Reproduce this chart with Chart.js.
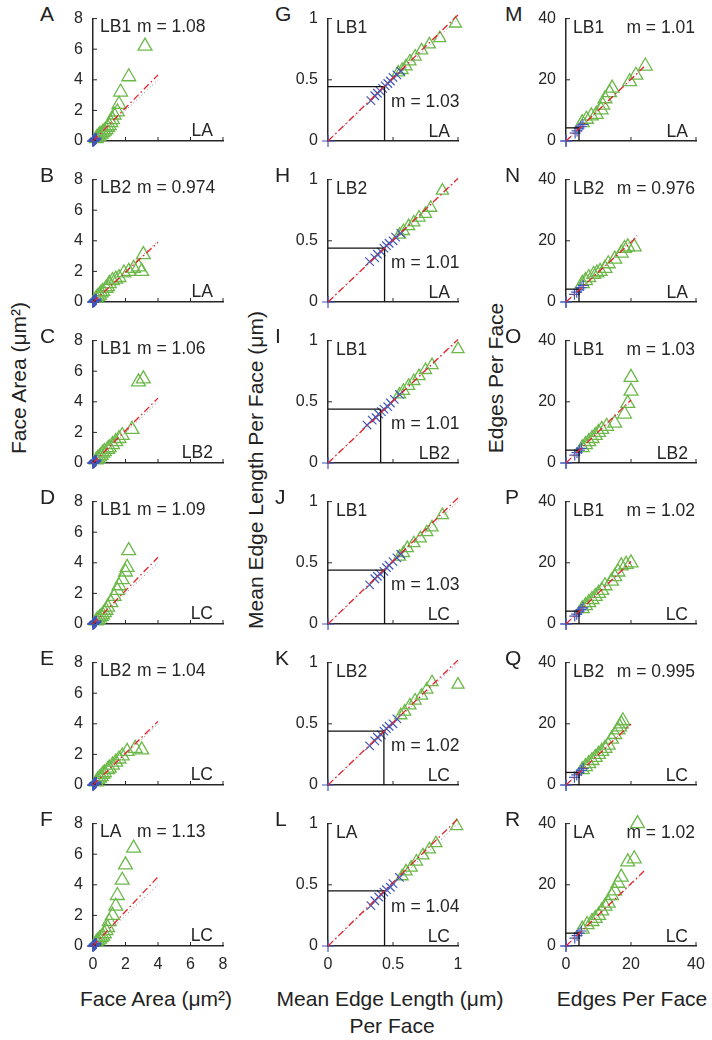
<!DOCTYPE html>
<html>
<head>
<meta charset="utf-8">
<script src="https://cdn.jsdelivr.net/npm/chart.js@4.4.1/dist/chart.umd.min.js"></script>
<style>
body{margin:0;background:#fff;width:712px;height:1040px;position:relative;overflow:hidden;font-family:"Liberation Sans",Arial,sans-serif;color:#222}
canvas{position:absolute}
.t{position:absolute;font-size:21px;line-height:1;white-space:nowrap}
.c{transform:translate(-50%,-50%)}
.r{transform:translate(-50%,-50%) rotate(-90deg)}
.let{position:absolute;font-size:21px;line-height:1}
</style>
</head>
<body>
<div class="t r" style="left:18px;top:378px">Face Area (μm²)</div>
<div class="t r" style="left:255px;top:470px">Mean Edge Length Per Face (μm)</div>
<div class="t r" style="left:495px;top:378px">Edges Per Face</div>
<div class="t c" style="left:156px;top:998px">Face Area (μm²)</div>
<div class="t c" style="left:390px;top:998px">Mean Edge Length (μm)</div>
<div class="t c" style="left:392px;top:1025px">Per Face</div>
<div class="t c" style="left:632px;top:998px">Edges Per Face</div>
<script>
// panel labels, column by column (A-F, G-L, M-R)
const letters = ['A','B','C','D','E','F','G','H','I','J','K','L','M','N','O','P','Q','R'];
const refNames = ['LB1','LB2','LB1','LB1','LB2','LA','LB1','LB2','LB1','LB1','LB2','LA','LB1','LB2','LB1','LB1','LB2','LA'];
const cmpNames = ['LA','LA','LB2','LC','LC','LC','LA','LA','LB2','LC','LC','LC','LA','LA','LB2','LC','LC','LC'];
const slopes = [1.08,0.974,1.06,1.09,1.04,1.13, 1.03,1.01,1.01,1.03,1.02,1.04, 1.01,0.976,1.03,1.02,0.995,1.02];
const fitEnds = [4,4,4,4,4,4, 1,1,1,1,1,1, 24,22,20,20,20,24];

// axes per column
const axisMax = [8, 1, 40];
const tickValues = [[0,2,4,6,8],[0,0.5,1],[0,20,40]];
const tickLabels = [['0','2','4','6','8'],['0','0.5','1'],['0','20','40']];

// mean point (black guide lines)
const means = [[0.12,0.11],[0.12,0.11],[0.12,0.11],[0.12,0.11],[0.12,0.11],[0.12,0.11],
  [0.435,0.445],[0.435,0.44],[0.405,0.44],[0.435,0.44],[0.43,0.44],[0.435,0.45],
  [4,4.3],[4,4.2],[4,4.2],[4,4.2],[4,4.1],[4,4.2]];

// green triangles
const triangles = [
  [[3.2,6.2],[2.2,4.2],[1.7,3.2],[1.6,2.4],[1.5,1.9],[1.3,1.7],[1.2,1.4],[1.1,1.2],[1.0,1.0],[0.9,0.9],[0.8,0.75],[0.7,0.65],[0.6,0.55],[0.5,0.45],[0.4,0.4],[0.35,0.3],[0.25,0.25],[0.2,0.15]],
  [[3.1,3.1],[2.8,2.3],[3.0,2.0],[2.5,2.2],[2.2,2.0],[1.9,1.9],[1.6,1.6],[1.4,1.5],[1.2,1.4],[1.0,1.2],[0.9,1.0],[0.8,0.9],[0.6,0.7],[0.5,0.6],[0.4,0.45],[0.3,0.35],[0.2,0.25]],
  [[2.8,5.3],[3.1,5.5],[2.4,2.2],[1.8,1.8],[1.6,1.6],[1.4,1.4],[1.2,1.2],[1.0,1.0],[0.9,0.9],[0.7,0.75],[0.6,0.65],[0.5,0.5],[0.4,0.4],[0.3,0.3],[0.2,0.2]],
  [[2.2,4.8],[2.1,3.7],[2.0,3.4],[1.8,2.9],[1.6,2.5],[1.5,2.2],[1.3,1.8],[1.1,1.4],[0.9,1.1],[0.8,0.9],[0.7,0.75],[0.6,0.6],[0.5,0.5],[0.4,0.4],[0.3,0.3],[0.2,0.2]],
  [[3.0,2.3],[2.6,2.4],[2.1,2.2],[1.8,1.9],[1.6,1.7],[1.4,1.5],[1.2,1.3],[1.0,1.1],[0.9,1.0],[0.7,0.8],[0.6,0.7],[0.5,0.55],[0.4,0.45],[0.3,0.35],[0.2,0.2]],
  [[2.5,6.4],[2.0,5.3],[1.8,4.3],[1.5,3.3],[1.4,2.6],[1.2,2.0],[1.0,1.6],[0.9,1.2],[0.8,1.0],[0.7,0.8],[0.6,0.65],[0.5,0.55],[0.4,0.45],[0.3,0.35],[0.2,0.25]],
  [[0.98,0.96],[0.86,0.84],[0.78,0.79],[0.72,0.74],[0.67,0.69],[0.63,0.65],[0.6,0.61],[0.57,0.58],[0.54,0.56]],
  [[0.88,0.91],[0.79,0.77],[0.75,0.72],[0.7,0.69],[0.66,0.65],[0.62,0.62],[0.58,0.58],[0.55,0.55]],
  [[1.0,0.93],[0.8,0.8],[0.75,0.76],[0.7,0.71],[0.66,0.67],[0.62,0.63],[0.58,0.59],[0.55,0.56]],
  [[0.88,0.89],[0.8,0.79],[0.76,0.75],[0.71,0.7],[0.66,0.66],[0.61,0.62],[0.58,0.58],[0.55,0.55]],
  [[1.0,0.82],[0.8,0.84],[0.76,0.78],[0.72,0.73],[0.67,0.69],[0.63,0.65],[0.59,0.6],[0.56,0.57]],
  [[0.99,0.98],[0.83,0.84],[0.78,0.79],[0.73,0.74],[0.68,0.69],[0.64,0.64],[0.6,0.61],[0.57,0.57]],
  [[24.4,24.5],[21.5,21.5],[19.6,19.4],[14.2,17.3],[13.4,15.8],[12,13.8],[11.3,11.7],[10.8,10.2],[9.3,8.7],[7.8,8.2],[6.3,7.1],[5,6]],
  [[21,18],[19,18],[18,17.5],[17,16],[15,14],[13,12.5],[12,11],[10.5,10],[9.5,9.5],[8.5,9],[7,8],[6,7],[5,6]],
  [[20,28],[20,23.5],[19,19.5],[18,16],[15,13],[12.5,12],[11,11],[10,10],[9,9],[8,8],[7,7],[6,6],[5,5]],
  [[20,20],[18.5,19.5],[17,19],[16,17],[15,15.5],[14,14],[12,12.5],[11,11],[10,10],[9,9],[8,8],[7,7],[6,6],[5,5]],
  [[17.5,21],[17,20],[16.5,19],[16,18],[15,16.5],[14,15],[13,13],[12,12],[11,11],[10,10],[9,9],[8,8],[7,7],[6,6],[5,5]],
  [[22,40],[21,28.5],[19,27.5],[17,22.5],[16,20.5],[15,18],[14,16.5],[13,14],[12,13],[11,11.5],[10,10],[9,9],[8,8],[6.5,7],[5,5.5]]
];

// blue crosses
const crossesC1 = [[0,0],[0.05,0.04],[0.08,0.07],[0.1,0.1],[0.12,0.11],[0.15,0.14],[0.18,0.16]];
const crosses = [
  crossesC1, crossesC1, crossesC1, crossesC1, crossesC1, crossesC1,
  [[0.33,0.33],[0.36,0.37],[0.38,0.39],[0.4,0.41],[0.42,0.43],[0.44,0.45],[0.46,0.47],[0.48,0.49],[0.5,0.52],[0.53,0.54],[0.56,0.57]],
  [[0.32,0.33],[0.36,0.36],[0.38,0.39],[0.41,0.41],[0.43,0.44],[0.45,0.46],[0.47,0.48],[0.5,0.5],[0.52,0.53],[0.56,0.56]],
  [[0.3,0.31],[0.34,0.35],[0.37,0.37],[0.39,0.4],[0.41,0.42],[0.43,0.44],[0.46,0.46],[0.48,0.49],[0.51,0.52],[0.55,0.56]],
  [[0.32,0.32],[0.36,0.37],[0.38,0.39],[0.4,0.41],[0.43,0.43],[0.45,0.46],[0.47,0.48],[0.5,0.51],[0.53,0.54],[0.56,0.57]],
  [[0.32,0.32],[0.36,0.36],[0.38,0.39],[0.41,0.41],[0.43,0.44],[0.45,0.46],[0.47,0.48],[0.5,0.5],[0.53,0.54]],
  [[0.33,0.33],[0.36,0.37],[0.39,0.4],[0.41,0.42],[0.43,0.44],[0.45,0.46],[0.48,0.48],[0.5,0.51],[0.55,0.56]],
  [[0,0],[2.8,2.6],[3.4,3.3],[4.0,4.2],[4.6,4.8],[5.2,5.4]],
  [[0,0],[2.6,2.5],[3.3,3.2],[4.0,4.0],[4.6,4.7],[5.3,5.4]],
  [[0,0],[2.7,2.6],[3.4,3.4],[4.1,4.2],[4.7,4.8]],
  [[0,0],[2.7,2.6],[3.3,3.2],[4.0,4.2],[4.6,4.7],[5.2,5.3]],
  [[0,0],[2.6,2.5],[3.3,3.3],[4.0,4.1],[4.7,4.8],[5.3,5.4]],
  [[0,0],[2.7,2.6],[3.4,3.4],[4.0,4.2],[4.7,4.9]]
];

const colLeft = [93, 328, 566];
const FONT = '"Liberation Sans", Arial, sans-serif';
const GREEN = '#6cb94a', BLUE = '#4157b8', RED = '#e3242b', INK = '#262626';

const xy = a => a.map(p => ({x: p[0], y: p[1]}));

const panelDeco = {
  id: 'panelDeco',
  afterDraw(chart, args, o) {
    const {ctx, chartArea: a, scales} = chart;
    ctx.save();
    // inward tick marks
    ctx.strokeStyle = INK; ctx.lineWidth = 1;
    tickValues[o.col].slice(1).forEach(v => {
      const px = scales.x.getPixelForValue(v), py = scales.y.getPixelForValue(v);
      ctx.beginPath(); ctx.moveTo(px, a.bottom); ctx.lineTo(px, a.bottom - 4); ctx.stroke();
      ctx.beginPath(); ctx.moveTo(a.left, py); ctx.lineTo(a.left + 4, py); ctx.stroke();
    });
    ctx.fillStyle = INK;
    ctx.font = '17.5px ' + FONT;
    ctx.textBaseline = 'middle';
    const m = 'm = ' + o.slope;
    if (o.col === 0) {
      ctx.textAlign = 'left';
      ctx.fillText(o.ref, a.left + 7, a.top + 9);
      ctx.fillText(m, a.left + 44, a.top + 9);
      ctx.textAlign = 'right';
      ctx.fillText(o.cmp, a.left + 120, a.top + 113);
    } else if (o.col === 1) {
      ctx.textAlign = 'left';
      ctx.fillText(o.ref, a.left + 8, a.top + 10);
      ctx.fillText(m, a.left + 63, a.top + 84);
      ctx.textAlign = 'right';
      ctx.fillText(o.cmp, a.left + 122, a.top + 114);
    } else {
      ctx.textAlign = 'left';
      ctx.fillText(o.ref, a.left + 7, a.top + 9.5);
      ctx.textAlign = 'right';
      ctx.fillText(m, a.left + 129, a.top + 9.5);
      ctx.fillText(o.cmp, a.left + 122, a.top + 114);
    }
    ctx.restore();
  }
};

function axis(col, showLabels, isX) {
  return {
    type: 'linear', min: 0, max: axisMax[col],
    afterFit: s => { if (isX) s.height = 30; else s.width = 60; },
    afterBuildTicks: s => { s.ticks = tickValues[col].map(v => ({value: v})); },
    grid: {display: false, drawTicks: false},
    border: {display: true, color: INK, width: 1.5},
    ticks: {
      display: showLabels, padding: isX ? 9 : 10, color: INK, autoSkip: false, maxRotation: 0,
      font: {size: 16, family: FONT},
      callback: (v, i) => tickLabels[col][i]
    }
  };
}

for (let k = 0; k < 18; k++) {
  const col = Math.floor(k / 6), row = k % 6;
  const L = colLeft[col], T = 11 + 161 * row;

  const letter = document.createElement('div');
  letter.className = 'let';
  letter.textContent = letters[k];
  letter.style.left = [40, 275, 505][col] + 'px';
  letter.style.top = (T - 8) + 'px';
  document.body.appendChild(letter);

  const cv = document.createElement('canvas');
  cv.width = 210; cv.height = 172;
  cv.style.left = (L - 60) + 'px';
  cv.style.top = (T - 12) + 'px';
  document.body.appendChild(cv);

  const e = fitEnds[k], mx = means[k][0], my = means[k][1];
  const line = (data, color, dash, w) => ({
    data, showLine: true, borderColor: color, borderWidth: w, borderDash: dash,
    pointRadius: 0, fill: false, clip: false
  });
  const datasets = [
    line([{x: 0, y: 0}, {x: e, y: slopes[k] * e}], RED, [7, 3, 1.5, 3], 1.3),
    line([{x: 0, y: my}, {x: mx, y: my}], '#111', [], 1.3),
    line([{x: mx, y: 0}, {x: mx, y: my}], '#111', [], 1.3),
    line([{x: 0, y: 0}, {x: e, y: e}], '#9a8c9a', [1.2, 2.5], 1),
    {data: xy(crosses[k]), pointStyle: col === 1 ? 'crossRot' : 'cross', pointRadius: col === 1 ? 6 : 5.5,
     pointBorderColor: BLUE, pointBorderWidth: col === 0 ? 2 : 1.2, clip: false},
    {data: [{x: 0, y: 0}], pointStyle: 'cross', pointRadius: 6,
     pointBorderColor: BLUE, pointBorderWidth: 1.2, clip: false},
    {data: xy(triangles[k]), pointStyle: 'triangle', pointRadius: col === 1 ? 7 : 8,
     pointBackgroundColor: 'rgba(0,0,0,0)', pointBorderColor: GREEN, pointBorderWidth: 1.3, clip: false}
  ];

  new Chart(cv, {
    type: 'scatter',
    data: {datasets},
    options: {
      responsive: false, animation: false, events: [],
      layout: {padding: {left: 0, top: 12, right: 20, bottom: 0}},
      plugins: {
        legend: {display: false}, tooltip: {enabled: false},
        panelDeco: {col, ref: refNames[k], cmp: cmpNames[k], slope: slopes[k]}
      },
      scales: {x: axis(col, row === 5, true), y: axis(col, true, false)}
    },
    plugins: [panelDeco]
  });
}
</script>
</body>
</html>
